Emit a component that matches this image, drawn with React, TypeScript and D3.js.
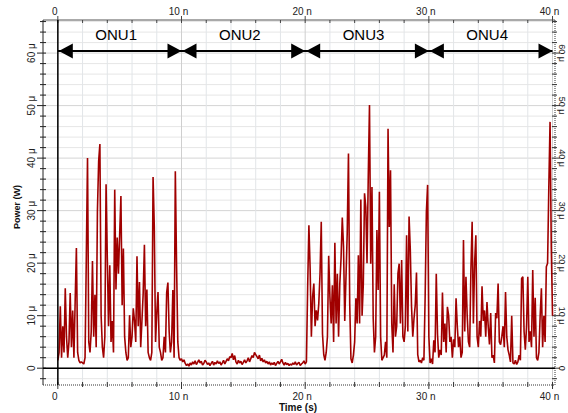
import React from "react";
import * as d3 from "d3";

// Power samples (µW) every 0.1 ns
const onu1 = [
  1.5, 3, 11.8, 2, 8, 3, 15.2, 6, 2, 5,
  14.3, 4, 11, 2, 12.6, 22.9, 3, 1.5, 1, 1.2,
  1, 0.8, 2, 20.7, 40, 5, 3, 7, 20.4, 6,
  14, 4, 29.8, 39.4, 42.7, 10, 4, 2, 6, 35,
  20.9, 8, 19.6, 5, 9, 3, 34, 15, 24.9, 18,
  25.5, 32.8, 12, 22.8, 6, 3, 1.5, 2, 10.1, 4,
  6, 11.4, 9, 5, 21.3, 8, 16.4, 4, 9, 14.2,
  23.5, 8, 15, 3, 2, 1.5, 3, 36.4, 26.8, 5,
  10.5, 14.5, 4, 3, 1.5, 2, 6, 3, 14.4, 16.3,
  7, 3, 5, 14.9, 2, 37.5, 19.6, 5, 2, 1.5,
];
const onu2 = [
  1.8, 1.2, 1.6, 0.9, 0.5, 0.8, 0.4, 1.0, 0.6, 1.2,
  0.8, 1.4, 0.7, 1.1, 1.6, 1.0, 1.3, 0.6, 0.9, 1.5,
  1.2, 0.7, 1.0, 0.5, 0.9, 1.3, 0.6, 1.1, 0.8, 1.4,
  0.9, 1.2, 0.6, 1.0, 1.5, 0.8, 1.3, 1.8, 1.4, 2.2,
  2.0, 2.8, 1.6, 2.4, 1.2, 0.8, 1.5, 1.0, 1.3, 0.7,
  1.1, 1.6, 1.0, 1.4, 2.0, 1.2, 1.8, 2.4, 2.0, 3.0,
  2.6, 2.2, 1.8, 2.5, 1.4, 1.9, 1.2, 1.6, 1.0, 1.3,
  0.8, 1.2, 0.6, 1.0, 0.7, 1.1, 0.5, 0.9, 1.3, 0.8,
  1.2, 1.7, 1.0, 0.6, 1.1, 0.7, 0.9, 0.5, 0.8, 0.6,
  1.0, 0.7, 1.2, 0.6, 0.9, 1.1, 0.5, 0.8, 1.0, 1.4,
];
const onu3 = [
  0.8, 1.2, 15.4, 27.2, 19, 6, 13.6, 16.1, 8, 11,
  9.1, 12.3, 18, 27.9, 6.5, 2.6, 1.5, 3, 6, 21.4,
  13.6, 8.5, 15.8, 5, 23.9, 8.5, 18, 6, 16.1, 20.9,
  28.7, 23.1, 9, 17.4, 25.8, 40.9, 12.3, 1.8, 1, 2.5,
  5, 13.3, 8.5, 21.5, 8.5, 32.1, 10, 16, 33.3, 30.7,
  20, 36.3, 50.1, 19.9, 34.5, 9.5, 3, 6, 26.3, 14.9,
  33.6, 6, 1.5, 2, 2.5, 5, 2, 45.6, 26.9, 37.7,
  8.5, 3, 16, 6, 8, 18, 19.9, 8.5, 20.6, 6,
  5, 8, 25.3, 7, 28.9, 22.5, 11.7, 6, 9.5, 12,
  18.2, 2.6, 1.2, 1.5, 1, 2, 1.5, 13.6, 29.8, 34.9,
];
const onu4 = [
  6, 1, 1.8, 0.8, 5.3, 3, 18, 6.5, 2, 3.5,
  2.5, 14.4, 5, 8.5, 3, 11.7, 10, 5, 6, 2,
  5.5, 4, 13.3, 8, 4, 6, 2, 3, 24.4, 7,
  17.4, 10, 5, 4, 18.7, 27.9, 8.5, 20, 25.3, 6,
  4, 9, 6, 15.6, 9, 11, 6, 12.6, 8, 4.5,
  10.5, 2, 2.5, 1, 10.5, 9.5, 16.1, 5, 4.5, 6,
  8, 4, 14.5, 6, 3.5, 2.5, 1.2, 10, 1, 0.8,
  1.5, 0.7, 1.2, 2.5, 1.5, 17.1, 17.4, 7, 3.5, 8,
  17.4, 5, 7, 4, 18.7, 6, 13.4, 2, 1.5, 3,
  10, 15.2, 4, 10, 5, 19.3, 20, 34.5, 46.9, 23,
];
const lastValue = 10;
const sampleStepNs = 0.1;

const xMajorTicks = [0, 10, 20, 30, 40];
const xTickLabels = ["0", "10 n", "20 n", "30 n", "40 n"];
const yMajorTicks = [0, 10, 20, 30, 40, 50, 60];
const yTickLabels = ["0", "10 \u03bc", "20 \u03bc", "30 \u03bc", "40 \u03bc", "50 \u03bc", "60 \u03bc"];
const onuNames = ["ONU1", "ONU2", "ONU3", "ONU4"];
const onuBounds = [0, 10, 20, 30, 40];
const arrowLevel = 60.4;

const W = 568;
const H = 413;
const FONT = "'Liberation Sans', Arial, sans-serif";

export default function App() {
  const left = 43, right = 555, top = 20, bottom = 385;
  const x = d3.scaleLinear().domain([-1.2, 40.2]).range([left, right]);
  const y = d3.scaleLinear().domain([-3.2, 66.3]).range([bottom, top]);

  const power = [...onu1, ...onu2, ...onu3, ...onu4, lastValue];
  const pts: [number, number][] = power.map((v, i) => [i * sampleStepNs, v]);
  const line = d3.line<[number, number]>().x((d) => x(d[0])).y((d) => y(d[1]));

  const xMinor = d3.range(0, 40.001, 2);
  const yMinor = d3.range(-2, 66.001, 2);

  const ah = 14; // arrowhead length
  const aw = 7.5; // half height
  const ay = y(arrowLevel);

  return (
    <svg width={W} height={H} style={{ position: "absolute", left: 0, top: 0, background: "#fff" }} fontFamily={FONT}>
      <rect x={0} y={0} width={W} height={H} fill="#fff" />
      <defs>
        <clipPath id="plot">
          <rect x={left} y={top} width={right - left} height={bottom - top} />
        </clipPath>
      </defs>
      {/* grid */}
      {yMinor.map((v) => (
        <line key={"gy" + v} x1={left} x2={right} y1={y(v)} y2={y(v)} stroke={v % 10 === 0 ? "#d4d4d4" : "#e6e6e6"} strokeWidth={1} />
      ))}
      {xMinor.map((v) => (
        <line key={"gx" + v} x1={x(v)} x2={x(v)} y1={top} y2={bottom} stroke={v % 10 === 0 ? "#cfcfcf" : "#e2e5e8"} strokeWidth={1} />
      ))}
      {/* frame */}
      <line x1={left} x2={right} y1={top} y2={top} stroke="#555" strokeWidth={1} />
      <line x1={left} x2={left} y1={top} y2={bottom} stroke="#222" strokeWidth={1} />
      <line x1={left} x2={right} y1={bottom} y2={bottom} stroke="#333" strokeWidth={1} strokeDasharray="1,1" />
      <line x1={right} x2={right} y1={top} y2={bottom} stroke="#333" strokeWidth={1} strokeDasharray="1,1" />
      {/* frame ticks */}
      {yMinor.map((v) => (
        <g key={"ty" + v}>
          <line x1={v % 10 === 0 ? left - 6 : left - 3} x2={left + 3} y1={y(v)} y2={y(v)} stroke="#222" />
          <line x1={right - 3} x2={v % 10 === 0 ? right + 5 : right + 2} y1={y(v)} y2={y(v)} stroke="#333" />
        </g>
      ))}
      {xMinor.map((v) => (
        <g key={"tx" + v}>
          <line x1={x(v)} x2={x(v)} y1={v % 10 === 0 ? top - 4 : top} y2={top + 3} stroke="#444" />
          <line x1={x(v)} x2={x(v)} y1={bottom - 3} y2={v % 10 === 0 ? bottom + 4 : bottom + 2} stroke="#333" />
        </g>
      ))}
      {/* trace */}
      <path d={line(pts) || ""} fill="none" stroke="#a00000" strokeWidth={1.6} clipPath="url(#plot)" strokeLinejoin="bevel" />
      {/* zero lines */}
      <line x1={x(0)} x2={x(0)} y1={top} y2={bottom} stroke="#000" strokeWidth={1.5} />
      <line x1={left} x2={right} y1={y(0)} y2={y(0)} stroke="#000" strokeWidth={1.5} />
      {/* arrows */}
      <line x1={x(onuBounds[0])} x2={x(onuBounds[onuBounds.length - 1])} y1={ay} y2={ay} stroke="#000" strokeWidth={2} />
      {onuNames.map((name, i) => {
        const a = x(onuBounds[i]) + 1;
        const b = x(onuBounds[i + 1]);
        return (
          <g key={name}>
            <polygon points={`${a},${ay} ${a + ah},${ay - aw} ${a + ah},${ay + aw}`} fill="#000" />
            <polygon points={`${b},${ay} ${b - ah},${ay - aw} ${b - ah},${ay + aw}`} fill="#000" />
            <text x={(a + b) / 2 - 4} y={40} fontSize={15} textAnchor="middle" fill="#000">{name}</text>
          </g>
        );
      })}
      {/* x labels */}
      {xMajorTicks.map((v, i) => (
        <g key={"xl" + v}>
          <text x={x(v) - 3} y={15} fontSize={10} textAnchor="middle" fill="#222">{xTickLabels[i]}</text>
          <text x={x(v) - 3} y={400} fontSize={10} textAnchor="middle" fill="#222">{xTickLabels[i]}</text>
        </g>
      ))}
      {/* y labels */}
      {yMajorTicks.map((v, i) => (
        <g key={"yl" + v}>
          <text transform={`translate(31,${y(v)}) rotate(-90)`} fontSize={10} textAnchor="middle" dominantBaseline="central" fill="#222">{yTickLabels[i]}</text>
          <text transform={`translate(562,${y(v)}) rotate(90)`} fontSize={9} textAnchor="middle" dominantBaseline="central" fill="#222">{yTickLabels[i]}</text>
        </g>
      ))}
      <text transform={`translate(17,207) rotate(-90)`} fontSize={9} fontWeight="bold" textAnchor="middle" dominantBaseline="central" fill="#111">Power (W)</text>
      <text x={298} y={411} fontSize={10} fontWeight="bold" textAnchor="middle" fill="#111">Time (s)</text>
    </svg>
  );
}
